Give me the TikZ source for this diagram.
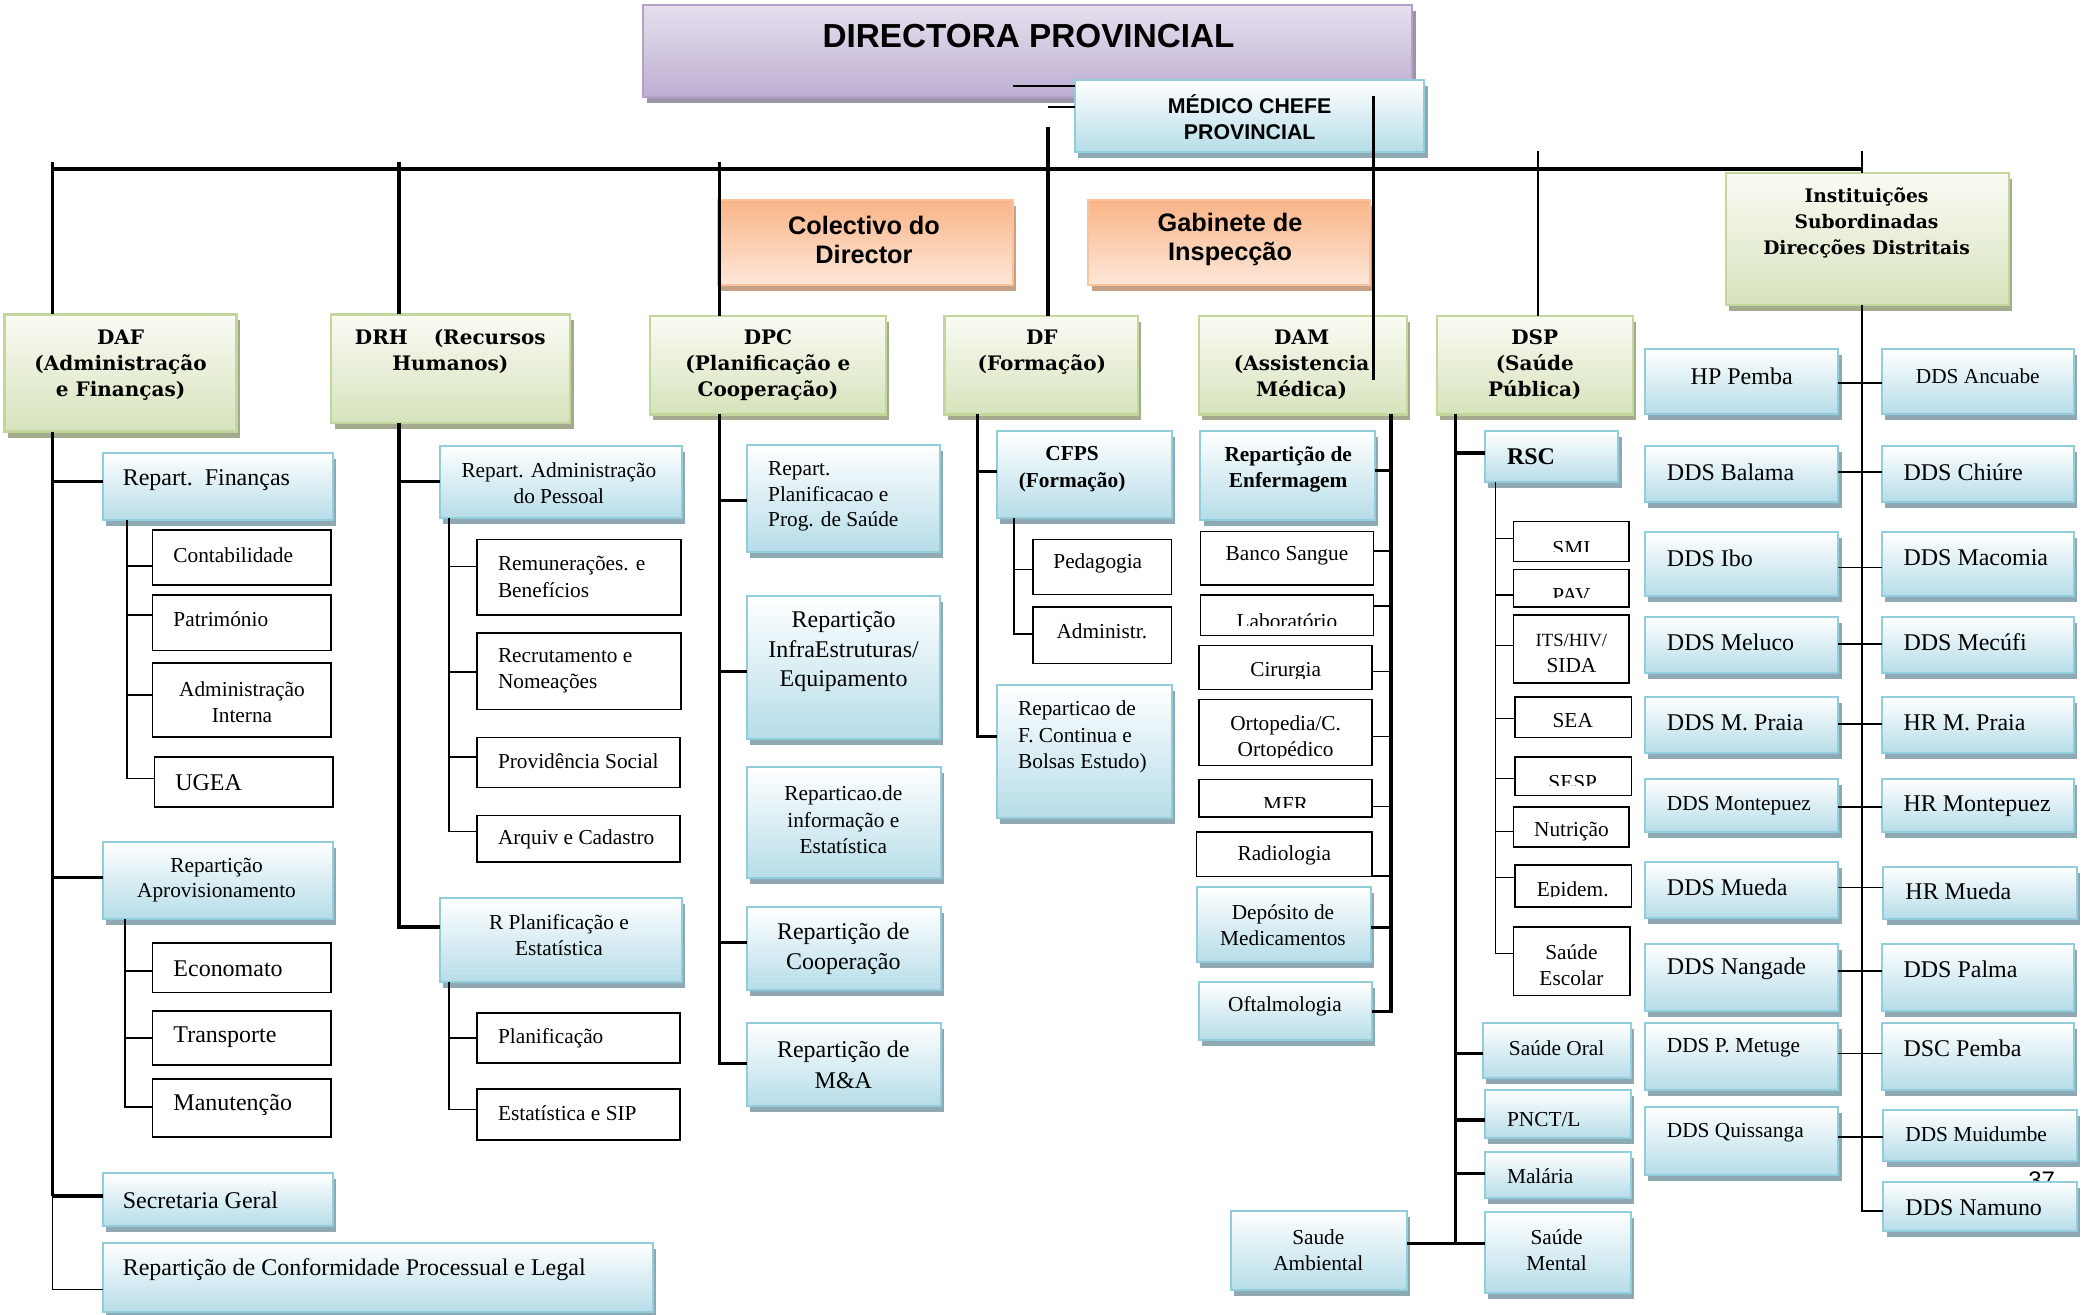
\documentclass[tikz,border=0pt]{standalone}
\usepackage{fontspec}
\setmainfont{Liberation Serif}
\newfontfamily\hdfont{DejaVu Serif}
\newfontfamily\sansfont{Liberation Sans}
\usetikzlibrary{shadows}
\definecolor{bluebot}{HTML}{B6DDE8}
\definecolor{bluebd}{HTML}{92CDDC}
\definecolor{blueshd}{HTML}{8FA9B4}
\definecolor{greentop}{HTML}{FAFBF4}
\definecolor{greenbot}{HTML}{D6E3BC}
\definecolor{greenbd}{HTML}{C3D69B}
\definecolor{greenshd}{HTML}{A3AB8D}
\definecolor{orangetop}{HTML}{F9B487}
\definecolor{orangebot}{HTML}{FDE8D9}
\definecolor{orangebd}{HTML}{FAC29C}
\definecolor{orangeshd}{HTML}{C6A186}
\definecolor{purpletop}{HTML}{E6E0ED}
\definecolor{purplebot}{HTML}{BDAED2}
\definecolor{purplebd}{HTML}{B3A2C7}
\definecolor{purpleshd}{HTML}{9C94A8}
\newcommand\fz[2]{\fontsize{#1}{#2}\selectfont}
\newcommand\mkbox[6]{\node[#1,minimum width={#4pt-#2pt},minimum height={#5pt-#3pt}] (#6) at ({(#2+#4)/2},{(#3+#5)/2}) {};}
\tikzset{
 boxbase/.style={rectangle,inner sep=0pt,outer sep=0pt},
 bluebox/.style={boxbase,draw=bluebd,line width=1.5pt,top color=white,bottom color=bluebot,
   drop shadow={shadow xshift=2.5pt,shadow yshift=-4.5pt,fill=blueshd,opacity=1}},
 greenbox/.style={boxbase,draw=greenbd,line width=1.8pt,top color=greentop,bottom color=greenbot,
   drop shadow={shadow xshift=2.5pt,shadow yshift=-4.5pt,fill=greenshd,opacity=1}},
 orangebox/.style={boxbase,draw=orangebd,line width=1.5pt,top color=orangetop,bottom color=orangebot,
   drop shadow={shadow xshift=2.5pt,shadow yshift=-4.5pt,fill=orangeshd,opacity=1}},
 purplebox/.style={boxbase,draw=purplebd,line width=1.5pt,top color=purpletop,bottom color=purplebot,
   drop shadow={shadow xshift=3pt,shadow yshift=-4.5pt,fill=purpleshd,opacity=1}},
 whitebox/.style={boxbase,draw=black,line width=1.2pt,fill=white},
 tk/.style={line width=2.6pt},
 tm/.style={line width=1.6pt},
 tn/.style={line width=1.2pt},
 tc/.style={inner sep=0pt,align=center},
 tw/.style={inner sep=0pt,align=left,anchor=west},
 hd/.style={tc,font=\hdfont\bfseries\fz{15}{19.5}},
 ttl/.style={tc,font=\sansfont\bfseries\fz{19}{21.8}},
}
\begin{document}
\begin{tikzpicture}[x=1pt,y=-1pt]
\useasboundingbox (0,0) rectangle (1568,987);
\fill[white] (0,0) rectangle (1568,987);

% ---------- top ----------
\mkbox{purplebox}{483}{4}{1060}{73}{dir}
\node[tc,font=\sansfont\bfseries\fz{25}{30}] (dir-t) at (772,27) {DIRECTORA PROVINCIAL};
\mkbox{bluebox}{807}{60}{1069}{114}{med}
\node[tc,font=\sansfont\bfseries\fz{16}{19.4}] (med-t) at (938,88) {MÉDICO CHEFE\\PROVINCIAL};
\draw[tm] (760,64.6) -- (med.west |- 0,64.6);
\draw[tm] (786.6,80) -- (med.west |- 0,80);

\mkbox{orangebox}{539}{150}{760}{214}{col}
\node[ttl] (col-t) at (648.5,180) {Colectivo do\\Director};
\mkbox{orangebox}{817}{150}{1028}{214}{gab}
\node[ttl] (gab-t) at (923.3,179.5) {Gabinete de\\Inspecção};

% ---------- green headers ----------
\mkbox{greenbox}{3.5}{236}{177.5}{324}{daf}
\node[hd] (daf-t) at (90.5,274) {DAF\\(Administração\\e Finanças)};
\mkbox{greenbox}{248.6}{236}{428}{317.5}{drh}
\node[hd] (drh-t) at (338,264) {DRH\hspace{1.3em}(Recursos\\Humanos)};
\mkbox{greenbox}{488}{237}{665}{311}{dpc}
\node[hd] (dpc-t) at (576.4,274) {DPC\\(Planificação e\\Cooperação)};
\mkbox{greenbox}{709}{237}{854}{311}{df}
\node[hd] (df-t) at (782,264) {DF\\(Formação)};
\mkbox{greenbox}{900}{237}{1056}{311}{dam}
\node[hd] (dam-t) at (977,274) {DAM\\(Assistencia\\Médica)};
\mkbox{greenbox}{1078.6}{237}{1225.7}{311}{dsp}
\node[hd] (dsp-t) at (1152,274) {DSP\\(Saúde\\Pública)};
\mkbox{greenbox}{1295.5}{130}{1508}{229}{inst}
\node[tc,font=\hdfont\bfseries\fz{14}{19.5}] (inst-t) at (1401,167.5) {Instituições\\Subordinadas\\Direcções Distritais};

% ---------- main connectors ----------
\draw[tk] (39.5,127) -- (1397.6,127);
\draw[tm] (1397.6,113) -- (inst.north -| 1397.6,0);
\draw[tk] (39.5,121.4) -- (daf.north -| 39.5,0);
\draw[tk] (299.5,121.4) -- (drh.north -| 299.5,0);
\draw[tk] (540,121.4) -- (dpc.north -| 540,0);
\draw[tk] (786.6,95) -- (df.north -| 786.6,0);
\draw[tk] (1031,72) -- (1031,285);
\draw[tm] (1154.6,113) -- (dsp.north -| 1154.6,0);

% ---------- DAF ----------
\mkbox{bluebox}{77}{340}{249.6}{390}{fin}
\node[tw,font=\fz{18}{22}] (fin-t) at (92,360.5) {Repart.\ \ Finanças};
\mkbox{whitebox}{114.6}{398}{248.6}{439}{contab}
\node[tw,font=\fz{16}{20}] (contab-t) at (130,416.6) {Contabilidade};
\mkbox{whitebox}{114.6}{446.6}{248.6}{488.4}{patr}
\node[tw,font=\fz{16}{20}] (patr-t) at (130,464.8) {Património};
\mkbox{whitebox}{114.6}{497.7}{248.6}{553}{admi}
\node[tc,font=\fz{16}{20}] (admi-t) at (181.6,527) {Administração\\Interna};
\mkbox{whitebox}{116}{568}{250}{605.7}{ugea}
\node[tw,font=\fz{18}{22}] (ugea-t) at (131.4,587.7) {UGEA};
\mkbox{bluebox}{77}{631.7}{249.6}{689.5}{aprov}
\node[tc,font=\fz{16}{19.2}] (aprov-t) at (162.5,660.5) {Repartição\\Aprovisionamento};
\mkbox{whitebox}{114.6}{708}{248.6}{745}{econ}
\node[tw,font=\fz{18}{22}] (econ-t) at (130,727) {Economato};
\mkbox{whitebox}{114.6}{759}{248.6}{799.5}{transp}
\node[tw,font=\fz{18}{22}] (transp-t) at (130,778.4) {Transporte};
\mkbox{whitebox}{114.6}{810}{248.6}{853.4}{manut}
\node[tw,font=\fz{18}{22}] (manut-t) at (130,829.4) {Manutenção};
\mkbox{bluebox}{77}{880.8}{249.6}{920.3}{sec}
\node[tw,font=\fz{18}{22}] (sec-t) at (92,900.8) {Secretaria Geral};
\mkbox{bluebox}{77}{933}{490}{984.8}{conf}
\node[tw,font=\fz{18}{22}] (conf-t) at (92,953.3) {Repartição de Conformidade Processual e Legal};

\draw[tk] (daf.south -| 39.5,0) -- (39.5,897.6);
\draw[tn] (39.5,897.6) -- (39.5,968) -- (conf.west |- 0,968);
\draw[tk] (39.5,361.5) -- (fin.west |- 0,361.5);
\draw[tk] (39.5,658.6) -- (aprov.west |- 0,658.6);
\draw[tk] (39.5,897.6) -- (sec.west |- 0,897.6);
\draw[tn] (fin.south -| 95.5,0) -- (95.5,584.3) -- (ugea.west |- 0,584.3);
\draw[tn] (95.5,425) -- (contab.west |- 0,425);
\draw[tn] (95.5,461.6) -- (patr.west |- 0,461.6);
\draw[tn] (95.5,521.7) -- (admi.west |- 0,521.7);
\draw[tn] (aprov.south -| 93.8,0) -- (93.8,830.7) -- (manut.west |- 0,830.7);
\draw[tn] (93.8,728.9) -- (econ.west |- 0,728.9);
\draw[tn] (93.8,779) -- (transp.west |- 0,779);

% ---------- DRH ----------
\mkbox{bluebox}{330}{334.5}{511.7}{389}{rap}
\node[tc,font=\fz{16}{19.5}] (rap-t) at (419.5,363) {Repart. Administração\\do Pessoal};
\mkbox{whitebox}{357.9}{404.8}{511}{461.6}{rem}
\node[tw,font=\fz{16}{20.6}] (rem-t) at (373.6,433.1) {Remunerações. e\\Benefícios};
\mkbox{whitebox}{357.9}{475}{511}{532.4}{recr}
\node[tw,font=\fz{16}{20}] (recr-t) at (373.6,503.4) {Recrutamento e\\Nomeações};
\mkbox{whitebox}{357.9}{553.7}{510.5}{591}{prov}
\node[tw,font=\fz{16}{20}] (prov-t) at (373.6,571.2) {Providência Social};
\mkbox{whitebox}{357.9}{612.2}{510.5}{646.8}{arq}
\node[tw,font=\fz{16}{20}] (arq-t) at (373.6,629.8) {Arquiv e Cadastro};
\mkbox{bluebox}{330}{673.8}{511.7}{737}{rpe}
\node[tc,font=\fz{16}{19.6}] (rpe-t) at (419.5,702) {R Planificação e\\Estatística};
\mkbox{whitebox}{357.9}{760.4}{510.5}{798}{plan}
\node[tw,font=\fz{16}{20}] (plan-t) at (373.6,779) {Planificação};
\mkbox{whitebox}{357.9}{817.6}{510.5}{855.6}{est}
\node[tw,font=\fz{16}{20}] (est-t) at (373.6,835.5) {Estatística e SIP};

\draw[tk] (drh.south -| 299.5,0) -- (299.5,695.8) -- (rpe.west |- 0,695.8);
\draw[tk] (299.5,361.5) -- (rap.west |- 0,361.5);
\draw[tn] (rap.south -| 337,0) -- (337,624.2) -- (arq.west |- 0,624.2);
\draw[tn] (337,425.3) -- (rem.west |- 0,425.3);
\draw[tn] (337,504.2) -- (recr.west |- 0,504.2);
\draw[tn] (337,568.4) -- (prov.west |- 0,568.4);
\draw[tn] (rpe.south -| 337,0) -- (337,832.8) -- (est.west |- 0,832.8);
\draw[tn] (337,779) -- (plan.west |- 0,779);

% ---------- DPC ----------
\mkbox{bluebox}{560.7}{333.7}{705.5}{414}{rpp}
\node[tw,font=\fz{16}{19.3}] (rpp-t) at (576.4,372.6) {Repart.\\Planificacao e\\Prog. de Saúde};
\mkbox{bluebox}{560.7}{447}{705.5}{555}{infra}
\node[tc,font=\fz{18}{22.5}] (infra-t) at (633.2,489) {Repartição\\InfraEstruturas/\\Equipamento};
\mkbox{bluebox}{560.4}{576}{706}{659.3}{info}
\node[tc,font=\fz{16}{20}] (info-t) at (633,615.5) {Reparticao.de\\informação e\\Estatística};
\mkbox{bluebox}{560.4}{681}{706}{743}{coop}
\node[tc,font=\fz{18}{23}] (coop-t) at (633,712) {Repartição de\\Cooperação};
\mkbox{bluebox}{560.4}{768}{706}{830}{ma}
\node[tc,font=\fz{18}{23.5}] (ma-t) at (633,799.4) {Repartição de\\M\&A};

\draw[tk] (dpc.south -| 540,0) -- (540,798.1) -- (ma.west |- 0,798.1);
\draw[tk] (540,375.8) -- (rpp.west |- 0,375.8);
\draw[tk] (540,504) -- (infra.west |- 0,504);
\draw[tk] (540,707.3) -- (coop.west |- 0,707.3);

% ---------- DF ----------
\mkbox{bluebox}{748}{323.8}{879.7}{388.7}{cfps}
\node[tc,font=\bfseries\fz{16}{20.2}] (cfps-t) at (804.7,352.4) {CFPS\\(Formação)};
\mkbox{whitebox}{775.3}{404.8}{879.2}{446.3}{ped}
\node[tc,font=\fz{16}{20}] (ped-t) at (824,423) {Pedagogia};
\mkbox{whitebox}{775.3}{455.6}{879.2}{498}{adm}
\node[tc,font=\fz{16}{20}] (adm-t) at (827,474) {Administr.};
\mkbox{bluebox}{748}{514}{879.7}{613.9}{rfc}
\node[tw,font=\fz{16}{19.8}] (rfc-t) at (764,553.1) {Reparticao de\\F. Continua e\\Bolsas Estudo)};

\draw[tk] (df.south -| 733.7,0) -- (733.7,552.8) -- (rfc.west |- 0,552.8);
\draw[tk] (733.7,353.8) -- (cfps.west |- 0,353.8);
\draw[tn] (cfps.south -| 761,0) -- (761,475.9) -- (adm.west |- 0,475.9);
\draw[tn] (761,427.5) -- (ped.west |- 0,427.5);

% ---------- DAM ----------
\mkbox{bluebox}{901}{323.8}{1032}{390}{enf}
\node[tc,font=\bfseries\fz{16}{19.2}] (enf-t) at (966.9,352.2) {Repartição de\\Enfermagem};
\mkbox{whitebox}{901}{398.9}{1031}{439}{banco}
\node[tc,font=\fz{16}{20}] (banco-t) at (966,416.9) {Banco Sangue};
\mkbox{whitebox}{901}{446.6}{1031}{477}{lab}
\begin{scope}\clip (901,446.6) rectangle (1031,469.5);
\node[tc,font=\fz{16}{20}] (lab-t) at (966,466) {Laboratório};
\end{scope}
\mkbox{whitebox}{900}{484.4}{1029.6}{517.4}{cir}
\begin{scope}\clip (900,484.4) rectangle (1029.6,509);
\node[tc,font=\fz{16}{20}] (cir-t) at (965,504.5) {Cirurgia};
\end{scope}
\mkbox{whitebox}{900}{524.9}{1029.6}{574.5}{orto}
\begin{scope}\clip (900,524.9) rectangle (1029.6,568.2);
\node[tc,font=\fz{16}{19.7}] (orto-t) at (965,554.5) {Ortopedia/C.\\Ortopédico};
\end{scope}
\mkbox{whitebox}{900}{585}{1029.6}{613.3}{mfr}
\begin{scope}\clip (900,585) rectangle (1029.6,606.4);
\node[tc,font=\fz{16}{20}] (mfr-t) at (965,603.8) {MFR};
\end{scope}
\mkbox{whitebox}{898}{624.5}{1029.6}{658}{radio}
\node[tc,font=\fz{16}{20}] (radio-t) at (964,641.7) {Radiologia};
\mkbox{bluebox}{898.5}{666}{1028.8}{721.8}{dep}
\node[tc,font=\fz{16}{19.5}] (dep-t) at (963,694.7) {Depósito de\\Medicamentos};
\mkbox{bluebox}{900}{736.8}{1029.8}{780.6}{oft}
\node[tc,font=\fz{16}{20}] (oft-t) at (964.5,755) {Oftalmologia};

\draw[tk] (dam.south -| 1044,0) -- (1044,759.3) -- (oft.east |- 0,759.3);
\draw[tk] (enf.east |- 0,353.3) -- (1044,353.3);
\draw[tn] (banco.east |- 0,413.6) -- (1044,413.6);
\draw[tn] (lab.east |- 0,455) -- (1044,455);
\draw[tn] (cir.east |- 0,504) -- (1044,504);
\draw[tn] (orto.east |- 0,552.7) -- (1044,552.7);
\draw[tn] (mfr.east |- 0,605.3) -- (1044,605.3);
\draw[tn] (radio.east |- 0,657.4) -- (1044,657.4);
\draw[tk] (dep.east |- 0,696) -- (1044,696);

% ---------- DSP ----------
\mkbox{bluebox}{1114.6}{323.8}{1214.7}{361.8}{rsc}
\node[tw,font=\bfseries\fz{18}{22}] (rsc-t) at (1131,343) {RSC};
\mkbox{whitebox}{1135.9}{391.4}{1222.9}{421.4}{smi}
\begin{scope}\clip (1135.9,391.4) rectangle (1222.9,414.2);
\node[tc,font=\fz{16}{20}] (smi-t) at (1179.5,412) {SMI};
\end{scope}
\mkbox{whitebox}{1135.9}{427.5}{1222.9}{455.6}{pav}
\begin{scope}\clip (1135.9,427.5) rectangle (1222.9,448.8);
\node[tc,font=\fz{16}{20}] (pav-t) at (1179.5,447) {PAV};
\end{scope}
\mkbox{whitebox}{1135.9}{461.6}{1222.9}{512.7}{its}
\node[tc,font=\fz{16}{19.6}] (its-t) at (1179.5,490.5) {{\fz{14}{19.6}ITS/HIV/}\\SIDA};
\mkbox{whitebox}{1137}{523.2}{1224.7}{553.6}{sea}
\node[tc,font=\fz{16}{20}] (sea-t) at (1180.5,541) {SEA};
\mkbox{whitebox}{1137}{568.2}{1224.7}{597.2}{sesp}
\begin{scope}\clip (1137,568.2) rectangle (1224.7,589.7);
\node[tc,font=\fz{16}{20}] (sesp-t) at (1180.5,587.7) {SESP};
\end{scope}
\mkbox{whitebox}{1135.9}{605.7}{1222.9}{635.8}{nut}
\node[tc,font=\fz{16}{20}] (nut-t) at (1179.5,624) {Nutrição};
\mkbox{whitebox}{1137}{649.3}{1224.7}{681}{epi}
\begin{scope}\clip (1137,649.3) rectangle (1224.7,673);
\node[tc,font=\fz{16}{20}] (epi-t) at (1180.5,669) {Epidem.};
\end{scope}
\mkbox{whitebox}{1136}{696}{1223.5}{747.3}{esc}
\node[tc,font=\fz{16}{20}] (esc-t) at (1179.5,724.5) {Saúde\\Escolar};
\mkbox{bluebox}{1112.9}{768}{1224}{809.4}{oral}
\node[tc,font=\fz{16}{20}] (oral-t) at (1168.4,786.9) {Saúde\ Oral};
\mkbox{bluebox}{1114.6}{818}{1224}{854.4}{pnct}
\node[tw,font=\fz{16}{20}] (pnct-t) at (1131,840.5) {PNCT/L};
\mkbox{bluebox}{1114.6}{864.4}{1224}{899.4}{mal}
\node[tw,font=\fz{16}{20}] (mal-t) at (1131,882.7) {Malária};
\mkbox{bluebox}{1114.6}{909.5}{1224}{970.7}{ment}
\node[tc,font=\fz{16}{19.5}] (ment-t) at (1168.4,938.5) {Saúde\\Mental};
\mkbox{bluebox}{923.7}{908.7}{1055.8}{968.3}{amb}
\node[tc,font=\fz{16}{19.5}] (amb-t) at (989.5,938.5) {Saude\\Ambiental};

\draw[tk] (dsp.south -| 1092.4,0) -- (1092.4,933.2);
\draw[tk] (1092.4,340) -- (rsc.west |- 0,340);
\draw[tk] (1092.4,790.6) -- (oral.west |- 0,790.6);
\draw[tk] (1092.4,840.6) -- (pnct.west |- 0,840.6);
\draw[tk] (1092.4,880.7) -- (mal.west |- 0,880.7);
\draw[tk] (amb.east |- 0,933.2) -- (ment.west |- 0,933.2);
\draw[tn] (rsc.south -| 1122.6,0) -- (1122.6,715.6) -- (esc.west |- 0,715.6);
\draw[tn] (1122.6,404.2) -- (smi.west |- 0,404.2);
\draw[tn] (1122.6,446.6) -- (pav.west |- 0,446.6);
\draw[tn] (1122.6,484.4) -- (its.west |- 0,484.4);
\draw[tn] (1122.6,539.4) -- (sea.west |- 0,539.4);
\draw[tn] (1122.6,584.4) -- (sesp.west |- 0,584.4);
\draw[tn] (1122.6,624) -- (nut.west |- 0,624);
\draw[tn] (1122.6,658.5) -- (epi.west |- 0,658.5);

% ---------- Instituicoes ----------
\mkbox{bluebox}{1234.7}{262}{1379.8}{311}{hp}
\node[tc,font=\fz{18}{22}] (hp-t) at (1307.3,282.2) {HP Pemba};
\mkbox{bluebox}{1412.3}{262}{1556.7}{311}{anc}
\node[tc,font=\fz{16}{20}] (anc-t) at (1484.5,282.2) {DDS Ancuabe};
\mkbox{bluebox}{1234.7}{334.6}{1379.8}{376.5}{bal}
\node[tw,font=\fz{18}{22}] (bal-t) at (1251,354.2) {DDS Balama};
\mkbox{bluebox}{1412.3}{334.6}{1556.7}{376.5}{chi}
\node[tw,font=\fz{18}{22}] (chi-t) at (1428.6,354.2) {DDS Chiúre};
\mkbox{bluebox}{1234.7}{399.6}{1379.8}{447.7}{ibo}
\node[tw,font=\fz{18}{22}] (ibo-t) at (1251,418.9) {DDS Ibo};
\mkbox{bluebox}{1412.3}{399.6}{1556.7}{447.7}{mac}
\node[tw,font=\fz{18}{22}] (mac-t) at (1428.6,418.9) {DDS Macomia};
\mkbox{bluebox}{1234.7}{462.9}{1379.8}{505.2}{mel}
\node[tw,font=\fz{18}{22}] (mel-t) at (1251,482) {DDS Meluco};
\mkbox{bluebox}{1412.3}{462.9}{1556.7}{505.2}{mec}
\node[tw,font=\fz{18}{22}] (mec-t) at (1428.6,482) {DDS Mecúfi};
\mkbox{bluebox}{1234.7}{523.2}{1379.8}{565}{mpl}
\node[tw,font=\fz{18}{22}] (mpl-t) at (1251,542.5) {DDS M. Praia};
\mkbox{bluebox}{1412.3}{523.2}{1556.7}{565}{hmp}
\node[tw,font=\fz{18}{22}] (hmp-t) at (1428.6,542.5) {HR M. Praia};
\mkbox{bluebox}{1234.7}{585}{1379.8}{624.3}{mon}
\node[tw,font=\fz{16}{20}] (mon-t) at (1251,604.4) {DDS Montepuez};
\mkbox{bluebox}{1412.3}{585}{1556.7}{624.3}{hmo}
\node[tw,font=\fz{18}{22}] (hmo-t) at (1428.6,605) {HR Montepuez};
\mkbox{bluebox}{1234.7}{646.8}{1379.8}{688.9}{mue}
\node[tw,font=\fz{18}{22}] (mue-t) at (1251,666) {DDS Mueda};
\mkbox{bluebox}{1413.6}{650.4}{1558.7}{689.5}{hmu}
\node[tw,font=\fz{18}{22}] (hmu-t) at (1430,668.8) {HR Mueda};
\mkbox{bluebox}{1234.7}{708.2}{1379.8}{758.5}{nan}
\node[tw,font=\fz{18}{22}] (nan-t) at (1251,727.5) {DDS Nangade};
\mkbox{bluebox}{1412.3}{708.2}{1556.7}{758.5}{pal}
\node[tw,font=\fz{18}{22}] (pal-t) at (1428.6,727.5) {DDS Palma};
\mkbox{bluebox}{1234.7}{768}{1379.8}{818.2}{met}
\node[tw,font=\fz{16}{20}] (met-t) at (1251,786.6) {DDS P. Metuge};
\mkbox{bluebox}{1412.3}{768}{1556.7}{818.2}{dsc}
\node[tw,font=\fz{18}{22}] (dsc-t) at (1428.6,786.6) {DSC Pemba};
\mkbox{bluebox}{1234.7}{831.2}{1379.8}{881.6}{qui}
\node[tw,font=\fz{16}{20}] (qui-t) at (1251,850) {DDS Quissanga};
\mkbox{bluebox}{1413.6}{833.4}{1558.7}{871.4}{mui}
\node[tw,font=\fz{16}{20}] (mui-t) at (1430,851.3) {DDS Muidumbe};
\node[tc,font=\sansfont\fz{18}{20}] (pg) at (1532.5,886) {37};
\mkbox{bluebox}{1413.6}{887}{1558.7}{924.3}{nam}
\node[tw,font=\fz{18}{22}] (nam-t) at (1430,906.3) {DDS Namuno};

\draw[tn] (inst.south -| 1397.6,0) -- (1397.6,909.1) -- (nam.west |- 0,909.1);
\draw[tn] (hp.east |- 0,287.5) -- (anc.west |- 0,287.5);
\draw[tn] (bal.east |- 0,354.2) -- (chi.west |- 0,354.2);
\draw[tn] (ibo.east |- 0,426) -- (mac.west |- 0,426);
\draw[tn] (mel.east |- 0,483.6) -- (mec.west |- 0,483.6);
\draw[tn] (mpl.east |- 0,543.4) -- (hmp.west |- 0,543.4);
\draw[tn] (mon.east |- 0,605.7) -- (hmo.west |- 0,605.7);
\draw[tn] (mue.east |- 0,666) -- (hmu.west |- 0,666);
\draw[tn] (nan.east |- 0,728.8) -- (pal.west |- 0,728.8);
\draw[tn] (met.east |- 0,790.7) -- (dsc.west |- 0,790.7);
\draw[tn] (qui.east |- 0,853.3) -- (mui.west |- 0,853.3);
\end{tikzpicture}
\end{document}
